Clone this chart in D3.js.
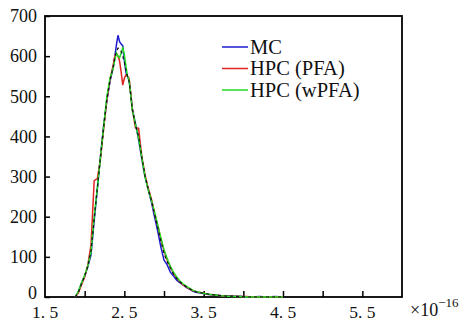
<!DOCTYPE html>
<html>
<head>
<meta charset="utf-8">
<script src="https://cdn.jsdelivr.net/npm/d3@7"></script>
<style>
  html, body { margin: 0; padding: 0; background: #fff; }
  svg { display: block; }
  svg text { font-family: "Liberation Serif", "Times New Roman", serif; }
</style>
</head>
<body>
<div id="display"></div>
<script>
// bin positions (x 1e-16) and counts
const xs = [1.88, 1.92, 1.96, 2.00, 2.04, 2.08, 2.12, 2.16, 2.20, 2.24, 2.28, 2.32, 2.36,
  2.38, 2.40, 2.42, 2.44, 2.46, 2.48, 2.50, 2.52, 2.54, 2.56, 2.58, 2.60,
  2.64, 2.68, 2.72, 2.76, 2.80, 2.84, 2.88, 2.92, 2.96, 3.00, 3.04, 3.08, 3.12, 3.16, 3.20,
  3.24, 3.28, 3.32, 3.36, 3.40, 3.48, 3.56, 3.64, 3.72, 3.80, 3.88, 3.96, 4.04,
  4.12, 4.20, 4.30, 4.40, 4.50]

const mc = [0, 12, 35, 52, 75, 105, 190, 270, 352, 428, 490, 538, 572,
  598, 628, 652, 636, 630, 626, 590, 560, 548, 540, 505, 470,
  432, 392, 345, 300, 268, 238, 200, 165, 125, 92, 80, 62, 52, 42, 36,
  30, 24, 20, 15, 12, 9, 6, 5, 3, 3, 2, 2, 0,
  0, 1, 0, 1, 0]

const pfa = [0, 10, 30, 50, 80, 130, 290, 295, 345, 420, 492, 542, 578,
  600, 606, 600, 588, 560, 528, 545, 553, 550, 545, 510, 470,
  422, 420, 350, 305, 272, 245, 210, 178, 145, 115, 92, 75, 58, 48, 38,
  30, 26, 20, 16, 14, 10, 7, 5, 3, 2, 2, 1, 1,
  0, 0, 0, 0, 0]

const wpfa = [0, 14, 34, 54, 78, 112, 200, 272, 350, 425, 500, 545, 570,
  590, 608, 600, 596, 608, 620, 605, 575, 550, 540, 505, 466,
  430, 395, 348, 300, 268, 242, 212, 180, 148, 118, 96, 76, 62, 50, 40,
  33, 27, 22, 17, 14, 10, 7, 5, 3, 2, 1, 1, 0,
  0, 0, 0, 0, 0]

const ref = [0, 11, 33, 52, 77, 115, 195, 272, 350, 425, 492, 540, 574,
  596, 612, 620, 618, 612, 600, 585, 565, 550, 538, 505, 468,
  428, 400, 348, 303, 270, 242, 208, 174, 140, 108, 88, 72, 57, 46, 38,
  31, 26, 21, 16, 13, 10, 7, 5, 3, 2, 2, 1, 0,
  0, 0, 0, 0, 0]

const names = ["MC", "HPC (PFA)", "HPC (wPFA)"]
const colors = ["#1c1cd0", "#e02424", "#22dd22"]

const xTicks = [2, 2.5, 3, 3.5, 4, 4.5, 5, 5.5]
const xLabels = [1.5, 2.5, 3.5, 4.5, 5.5]
const yTicks = [0, 100, 200, 300, 400, 500, 600, 700]

function chart(parentNode)
{
  let width = 464
  let height = 322
  let margin = {top: 16, right: 62, bottom: 25, left: 45}
  const font = "Liberation Serif, Times New Roman, serif"

  let x = d3.scaleLinear([1.5, 6], [margin.left, width - margin.right])
  let y = d3.scaleLinear([0, 700], [height - margin.bottom, margin.top])

  const svg = d3.create("svg")
      .attr("width", width)
      .attr("height", height)
      .attr("viewBox", [0, 0, width, height])

  const fmt = d => d3.format(".1f")(d).replace(".", ". ")

  // bottom axis, ticks pointing inside
  svg.append("g")
      .attr("transform", `translate(0,${y(0)})`)
      .call(d3.axisBottom(x).tickValues(xTicks).tickSizeInner(-6).tickSizeOuter(0).tickFormat(() => ""))
      .call(g => g.select(".domain").remove())
      .call(g => g.selectAll(".tick line").attr("stroke", "#000").attr("stroke-width", 1.5))

  svg.append("g")
    .selectAll("text")
    .data(xLabels)
    .join("text")
      .attr("x", d => x(d))
      .attr("y", 318)
      .attr("text-anchor", "middle")
      .attr("font-family", font)
      .attr("font-size", 17.5)
      .attr("fill", "#111")
      .text(fmt)

  svg.append("g")
      .attr("transform", `translate(${x(1.5)},0)`)
      .call(d3.axisLeft(y).tickValues(yTicks).tickSizeInner(-5).tickSizeOuter(0).tickPadding(8))
      .attr("font-family", font)
      .attr("font-size", 18)
      .call(g => g.select(".domain").remove())
      .call(g => g.selectAll(".tick line").attr("stroke", "#000").attr("stroke-width", 1.5))
      .call(g => g.selectAll(".tick text").attr("fill", "#111")
          .attr("dy", d => d === 0 ? "0.1em" : "0.32em"))

  // frame
  svg.append("rect")
      .attr("x", x(1.5))
      .attr("y", y(700))
      .attr("width", x(6) - x(1.5))
      .attr("height", y(0) - y(700))
      .attr("fill", "none")
      .attr("stroke", "#000")
      .attr("stroke-width", 1.8)

  // x10^-16 label
  const ex = svg.append("text")
      .attr("x", 410)
      .attr("y", 316)
      .attr("font-family", font)
      .attr("font-size", 18)
      .attr("fill", "#111")
  ex.append("tspan").text("×10")
  ex.append("tspan").attr("dy", -9).attr("font-size", 13).text("−16")

  const line = d3.line()
      .x((d, i) => x(xs[i]))
      .y(d => y(d))

  const series = [mc, pfa, wpfa]
  series.forEach((s, k) => {
    svg.append("path")
        .datum(s)
        .attr("fill", "none")
        .attr("stroke", colors[k])
        .attr("stroke-width", 1.5)
        .attr("d", line)
  })

  svg.append("path")
      .datum(ref)
      .attr("fill", "none")
      .attr("stroke", "#111")
      .attr("stroke-width", 1.2)
      .attr("stroke-dasharray", "3,3")
      .attr("d", line)

  // legend
  const legend = svg.append("g")
    .selectAll("g")
    .data(names)
    .join("g")
      .attr("transform", (d, i) => `translate(222,${47 + i * 21.5})`)

  legend.append("line")
      .attr("x1", 0).attr("x2", 26)
      .attr("stroke", (d, i) => colors[i])
      .attr("stroke-width", 1.5)

  legend.append("text")
      .attr("x", 28)
      .attr("dy", "0.33em")
      .attr("font-family", font)
      .attr("font-size", 20.5)
      .attr("fill", "#111")
      .text(d => d)

  parentNode.appendChild(svg.node())
}

document.addEventListener("DOMContentLoaded", () => {
    chart(document.getElementById("display"))
})
</script>
</body>
</html>
